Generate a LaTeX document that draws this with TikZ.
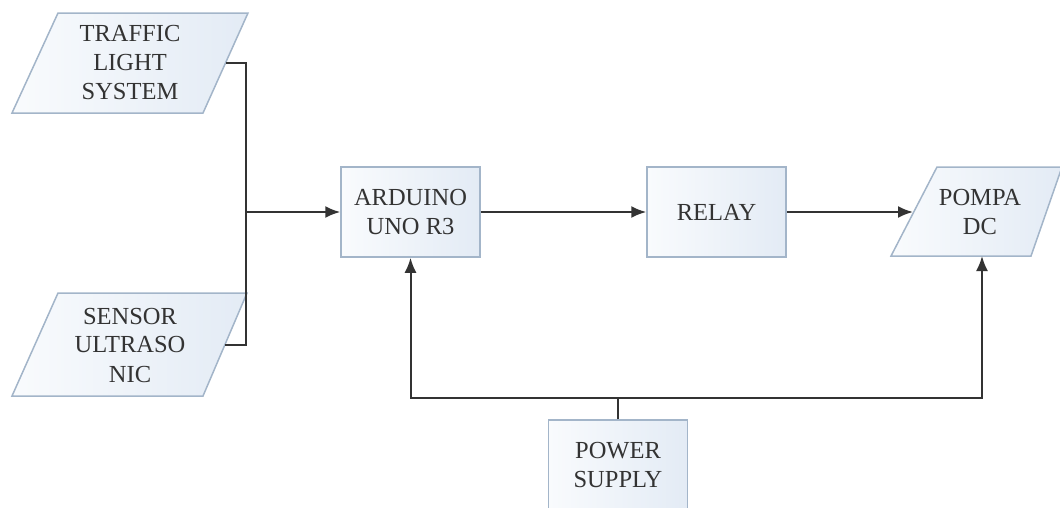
\documentclass[tikz,border=0pt]{standalone}
\usepackage{fontspec}
\setmainfont{Liberation Serif}
\usetikzlibrary{arrows.meta}
\definecolor{boxfill}{HTML}{E3EBF5}
\definecolor{boxstart}{HTML}{F9FBFD}
\definecolor{boxedge}{HTML}{A3B5C9}
\definecolor{ink}{HTML}{333333}
\definecolor{wirec}{HTML}{333333}
\begin{document}
\begin{tikzpicture}[x=1pt,y=-1pt,
  shapebox/.style={draw=boxedge, line width=1.5pt, left color=boxstart, right color=boxfill, line join=miter},
  lbl/.style={text=ink, font=\fontsize{24.5}{29}\selectfont, align=center},
  rbox/.style={shapebox, rectangle, minimum width=139pt, minimum height=90pt, inner sep=0pt, lbl},
  wire/.style={draw=wirec, line width=2pt},
  tip/.tip={Latex[length=15pt,width=12pt]},
  arr/.style={wire, -tip}]
\useasboundingbox (0,0) rectangle (1060,507);

% input parallelograms
\filldraw[shapebox] (58,13) -- (248,13) -- (203,113) -- (12,113) -- cycle;
\node[lbl] (traffic) at (130,63) {TRAFFIC\\LIGHT\\SYSTEM};
\filldraw[shapebox] (58,293) -- (247,293) -- (203,396) -- (12,396) -- cycle;
\node[lbl] (sensor) at (130,345) {SENSOR\\ULTRASO\\NIC};

% boxes
\node[rbox] (arduino) at (410.5,212) {ARDUINO\\UNO R3};
\node[rbox] (relay) at (716.5,212) {RELAY};
\node[rbox] (power) at (618,465) {POWER\\SUPPLY};

% output parallelogram
\filldraw[shapebox] (891,256) -- (937,167) -- (1062,167) -- (1031,256) -- cycle;
\node[lbl] (pompa) at (980,212) {POMPA\\DC};

% connector coordinates
\coordinate (trafficout) at (226,63);
\coordinate (sensorout) at (225,345);
\coordinate (jt) at (246,63);
\coordinate (js) at (246,345);
\coordinate (jm) at (246,212);
\coordinate (pompain) at (913,212);
\coordinate (pompabot) at (982,256);
\coordinate (pj) at (618,398);

% connectors
\draw[wire] (trafficout) -- (jt) -- (js) -- (sensorout);
\draw[arr] (jm) -- (arduino.west);
\draw[arr] (arduino.east) -- (relay.west);
\draw[arr] (relay.east) -- (pompain);
\draw[wire, tip-tip] (arduino.south) -- (arduino.south |- pj) -- (pompabot |- pj) -- (pompabot);
\draw[wire] (power.north) -- (pj);
\end{tikzpicture}
\end{document}
